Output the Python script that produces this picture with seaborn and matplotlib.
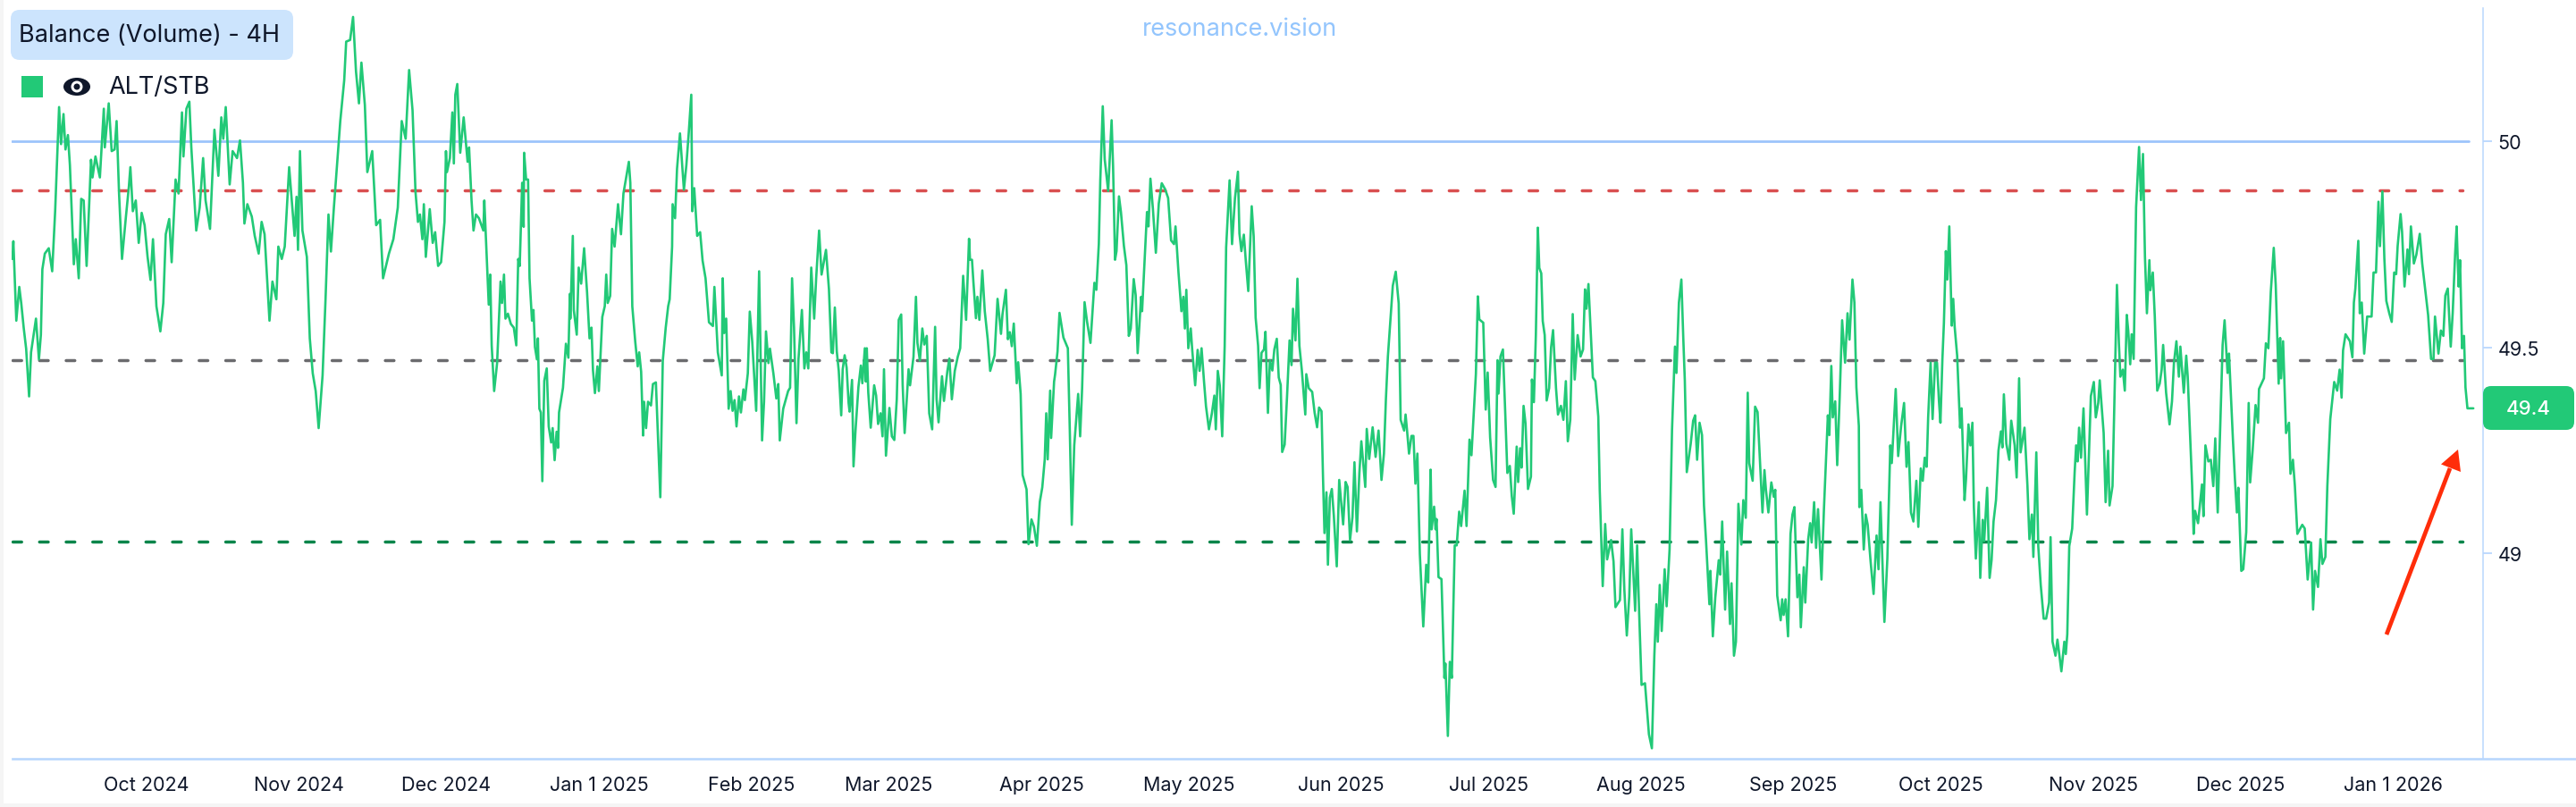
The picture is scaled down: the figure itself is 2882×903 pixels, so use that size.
import pandas as pd
import matplotlib.pyplot as plt
import seaborn as sns
from matplotlib.patches import FancyBboxPatch, Rectangle, Ellipse, Circle, Polygon

# days counted from 1 Oct 2024
days_a = [-27.3,-27.1,-26.5,-25.9,-25.5,-25.0,-24.5,-23.9,-23.5,-22.5,-21.9,-21.5,-21.2,-20.7,-19.9,-19.2,-18.6,-17.8,-17.4,-16.9,-16.5,-16.0,-15.6,-14.8,-14.4,-13.8,-13.3,-12.8,-12.2,-11.3,-11.0,-10.4,-9.5,-8.7,-8.5,-7.7,-7.1,-6.5,-6.1,-5.6,-5.0,-4.2,-3.6,-3.3,-2.8,-2.2,-1.6,-1.0,-0.4,0.2,0.8,1.3,2.0,2.8,3.4,3.9,4.6,5.1,5.9,6.5,7.2,7.5,8.1,8.7,9.1,10.1,10.8,11.5,12.0,12.9,13.8,14.6,15.2,15.6,16.1,16.9,17.5,18.4,19.0,19.6,19.9,20.5,21.4,22.0,22.8,23.4,24.0,25.0,25.6,26.4,26.8,27.5,28.1,29.0,30.1,30.5,30.8,31.2,31.7,32.6,33.2,33.8,34.4,35.0,35.8,36.4,37.0,37.5,38.1,38.7,39.4,40.2,40.6,41.4,42.0,42.6,43.2,43.7,44.4,44.9,45.9,46.7,47.5,48.1,49.3,50.2,51.1,51.9,52.7,53.4,54.1,54.7,55.2]
balance_a = [49.715,49.758,49.565,49.647,49.608,49.548,49.497,49.381,49.488,49.570,49.471,49.531,49.690,49.728,49.741,49.685,49.831,50.084,49.994,50.067,49.981,50.016,49.943,49.702,49.763,49.668,49.861,49.857,49.698,49.956,49.913,49.964,49.913,50.080,49.986,50.093,49.977,49.981,50.050,49.874,49.715,49.818,49.891,49.938,49.831,49.857,49.754,49.827,49.797,49.720,49.664,49.763,49.600,49.539,49.608,49.775,49.812,49.707,49.908,49.874,50.071,49.964,50.080,50.097,49.986,49.784,49.840,49.960,49.857,49.788,50.029,49.917,50.059,50.007,50.084,49.896,49.977,49.960,50.003,49.900,49.801,49.848,49.818,49.771,49.728,49.805,49.775,49.565,49.660,49.617,49.745,49.715,49.745,49.938,49.771,49.866,49.737,49.977,49.784,49.720,49.522,49.437,49.394,49.304,49.432,49.617,49.823,49.733,49.840,49.938,50.050,50.149,50.243,50.247,50.303,50.170,50.093,50.192,50.089,49.926,49.977,49.797,49.810,49.668,49.728,49.763,49.840,50.050,50.007,50.174,50.076,49.878,49.805]

days_b = [55.6,56.1,56.4,56.8,57.6,58.2,58.7,59.3,59.9,60.6,60.9,61.1,61.7,62.2,62.5,62.8,63.2,63.8,64.5,65.3,65.6,66.1,66.5,67.0,67.6,68.5,68.7,69.1,69.6,69.9,70.2,70.7,71.3,72.0,72.3,72.7,73.0,73.5,74.1,74.7,75.2,75.6,75.9,76.4,76.7,76.8,77.2,77.6,77.9,78.4,78.7,79.0,79.4,79.6,79.9,80.2,80.5,80.9,81.4,81.8,82.3,82.6,83.0,83.4,83.7,83.9,84.7,85.3,85.8,86.1,86.2,86.7,86.9,87.5,87.9,88.4,89.0,89.6,90.1,90.5,90.8,91.2,91.7,92.0,92.7,93.2,93.5,93.8,94.3,94.7,95.2,95.9,96.5,97.0,98.1,98.4,98.8,99.4,99.9,100.2,100.6,101.0,101.2,101.6,102.0,102.6,103.0,103.6,104.0,104.5,105.0,105.6,106.1,106.4,106.9,107.0,107.5,107.9,108.5,109.3,109.8,110.3,110.8,111.0,111.4,112.0,112.6,113.1,113.7,114.4,115.2,115.5,116.2,117.0,117.2,117.5,117.9,118.4,118.8,119.2,119.6,120.0,120.5,120.9,121.4,121.7,122.3,122.7,123.2,124.0,124.6,125.2,125.6,126.0,126.5,126.8,127.5,128.1,128.5,128.8,129.5,130.5,130.9,131.3,131.7,132.2,132.6,133.3,133.8,134.2,134.6,135.2,135.8,136.2,136.8,137.3,138.2,138.8,139.3]
balance_b = [49.823,49.763,49.848,49.720,49.836,49.754,49.780,49.698,49.707,49.805,49.977,49.926,49.960,50.071,49.947,50.114,50.140,49.973,50.059,49.951,49.986,49.857,49.784,49.823,49.814,49.784,49.857,49.745,49.604,49.677,49.505,49.394,49.462,49.660,49.608,49.677,49.570,49.582,49.557,49.548,49.505,49.715,49.698,49.900,49.793,49.973,49.908,49.908,49.668,49.565,49.591,49.501,49.471,49.522,49.351,49.342,49.175,49.419,49.449,49.308,49.269,49.304,49.226,49.295,49.256,49.342,49.402,49.509,49.475,49.630,49.570,49.771,49.591,49.531,49.694,49.655,49.741,49.634,49.522,49.548,49.445,49.389,49.454,49.394,49.574,49.600,49.677,49.608,49.625,49.788,49.745,49.848,49.775,49.874,49.951,49.900,49.600,49.514,49.454,49.488,49.441,49.286,49.368,49.304,49.368,49.359,49.411,49.415,49.291,49.136,49.467,49.548,49.600,49.617,49.745,49.848,49.814,49.934,50.020,49.883,49.943,50.024,50.114,49.831,49.887,49.771,49.780,49.711,49.668,49.561,49.552,49.647,49.488,49.432,49.668,49.535,49.570,49.351,49.394,49.346,49.372,49.308,49.381,49.342,49.398,49.372,49.437,49.587,49.514,49.346,49.685,49.274,49.368,49.539,49.462,49.497,49.437,49.376,49.411,49.274,49.351,49.394,49.402,49.668,49.548,49.316,49.471,49.591,49.449,49.488,49.449,49.694,49.570,49.668,49.784,49.677,49.737,49.642,49.488]

days_c = [139.6,140.0,140.4,140.8,141.3,141.6,142.0,142.4,142.8,143.0,143.5,143.8,144.2,144.8,145.3,145.6,146.1,146.3,146.5,146.8,147.3,148.0,148.4,148.8,149.3,149.7,150.0,150.4,151.1,151.6,152.1,152.6,153.0,153.5,153.8,154.2,154.5,155.0,155.3,156.0,156.5,156.8,157.3,157.8,158.2,158.7,159.2,159.8,160.4,160.7,161.1,161.8,162.2,162.9,163.3,163.8,164.4,165.0,165.5,166.1,166.7,167.3,167.5,167.9,168.2,168.7,169.0,169.4,170.0,170.5,171.1,171.6,172.5,173.1,173.8,174.1,174.8,175.2,175.6,176.0,176.4,177.0,177.3,177.8,178.2,179.0,179.4,180.0,180.5,181.1,181.7,182.2,182.7,183.0,183.3,183.8,184.0,184.6,184.8,185.3,185.7,186.5,187.4,187.8,188.2,188.7,189.5,189.9,190.3,190.8,191.3,192.0,192.8,193.2,193.7,194.0,194.5,194.9,195.6,196.3,196.6,197.0,197.3,197.8,198.2,198.8,199.3,199.8,200.2,200.8,201.2,201.6,202.3,202.5,203.0,203.5,203.8,204.2,204.7,205.3,205.9,206.5,207.2,207.8,208.4,209.0,209.3,209.9,210.5,210.9,211.2,211.5,211.9,212.4,212.7,213.3,213.8,214.2,214.6,215.1,215.5,216.1,216.7,217.2,217.5,217.9,218.3,218.8,219.3,219.6,220.3,220.8,221.4,222.0,222.3,222.7]
balance_c = [49.486,49.597,49.490,49.443,49.335,49.447,49.481,49.451,49.365,49.344,49.421,49.211,49.297,49.404,49.456,49.413,49.498,49.417,49.498,49.391,49.305,49.408,49.383,49.314,49.340,49.284,49.447,49.237,49.353,49.284,49.275,49.374,49.567,49.580,49.408,49.292,49.348,49.447,49.408,49.477,49.623,49.511,49.468,49.546,49.507,49.528,49.340,49.301,49.550,49.374,49.318,49.430,49.370,49.443,49.473,49.374,49.443,49.477,49.498,49.674,49.567,49.764,49.713,49.713,49.657,49.571,49.623,49.567,49.687,49.588,49.520,49.443,49.481,49.618,49.533,49.580,49.640,49.520,49.537,49.503,49.558,49.413,49.464,49.387,49.190,49.155,49.022,49.082,49.065,49.018,49.125,49.160,49.228,49.340,49.228,49.395,49.280,49.417,49.434,49.490,49.584,49.524,49.498,49.297,49.069,49.262,49.387,49.284,49.400,49.610,49.563,49.511,49.657,49.640,49.751,49.906,50.086,49.957,49.880,50.052,49.940,49.713,49.734,49.867,49.829,49.747,49.700,49.528,49.546,49.666,49.627,49.486,49.623,49.588,49.709,49.829,49.794,49.910,49.837,49.730,49.850,49.899,49.884,49.863,49.760,49.751,49.794,49.683,49.588,49.623,49.546,49.640,49.498,49.546,49.494,49.408,49.494,49.443,49.498,49.417,49.357,49.301,49.340,49.383,49.301,49.443,49.408,49.284,49.503,49.743,49.906,49.751,49.863,49.927,49.777,49.734]

days_d = [223.2,223.6,224.1,224.8,225.2,225.6,226.1,226.4,226.8,227.3,227.6,228.1,228.5,229.0,229.4,229.9,230.3,230.7,231.0,231.5,232.0,232.5,232.9,233.2,233.7,234.1,234.5,235.0,235.7,235.9,236.4,237.1,237.6,238.1,238.5,239.0,239.3,239.6,240.0,240.3,240.7,241.1,241.5,242.1,242.6,243.4,243.9,244.3,244.8,245.3,245.7,246.2,246.7,247.1,247.9,248.2,248.7,249.4,250.0,250.6,251.2,251.7,252.1,252.5,252.9,253.5,254.1,254.7,255.1,255.8,256.1,256.4,256.8,257.3,257.7,258.1,258.5,258.7,259.0,259.7,260.3,260.7,261.2,261.4,261.9,262.2,262.4,262.8,263.4,264.0,264.2,264.7,265.1,265.5,266.1,266.5,267.0,267.4,268.1,268.5,269.1,269.5,269.9,270.4,270.8,271.1,271.9,272.4,272.8,273.3,273.9,274.4,274.8,275.0,275.4,275.9,276.4,276.8,277.3,277.7,278.1,278.7,279.0,279.4,279.7,280.1,280.5,281.0,281.6,281.8,282.2,282.6,283.0,283.3,283.7,284.0,284.4,284.8,285.3,285.7,286.1,286.7,287.1,287.7,288.2,288.7,289.1,289.6,290.1,290.5,291.1,291.7,292.2,292.6,292.9,293.3,293.8,294.2,294.7,295.3,295.6,296.2,296.7,297.1,297.9,298.4,298.8,299.7,300.2,300.6,301.1,301.6,302.0,302.8,303.2,303.6,304.1,304.8,305.6,306.2]
balance_d = [49.774,49.710,49.637,49.843,49.770,49.572,49.504,49.401,49.487,49.495,49.538,49.341,49.469,49.444,49.495,49.521,49.427,49.409,49.246,49.264,49.384,49.517,49.457,49.594,49.517,49.667,49.504,49.444,49.337,49.435,49.401,49.392,49.341,49.306,49.354,49.345,49.186,49.049,49.148,48.972,49.135,49.156,49.092,48.968,49.178,49.070,49.173,49.161,49.032,49.088,49.221,49.053,49.195,49.272,49.161,49.302,49.229,49.306,49.234,49.298,49.178,49.242,49.375,49.478,49.547,49.650,49.684,49.607,49.324,49.298,49.337,49.298,49.242,49.285,49.285,49.169,49.242,49.143,48.998,48.822,48.972,48.929,49.203,49.058,49.113,49.058,49.083,48.942,48.937,48.697,48.732,48.556,48.736,48.697,49.019,49.019,49.101,49.066,49.152,49.066,49.276,49.238,49.324,49.435,49.624,49.568,49.560,49.349,49.439,49.281,49.178,49.161,49.469,49.388,49.478,49.495,49.332,49.195,49.212,49.139,49.096,49.259,49.173,49.255,49.208,49.358,49.315,49.156,49.186,49.422,49.367,49.530,49.791,49.693,49.680,49.564,49.530,49.371,49.401,49.500,49.542,49.401,49.337,49.358,49.324,49.418,49.272,49.324,49.581,49.422,49.530,49.478,49.495,49.641,49.594,49.654,49.525,49.427,49.418,49.332,49.152,48.920,49.071,48.985,49.032,48.980,48.869,48.886,49.058,48.912,48.800,48.895,49.058,48.860,49.019,48.860,48.680,48.684,48.560,48.526]

days_e = [306.7,307.1,307.4,307.8,308.2,308.8,309.2,309.8,310.3,310.9,311.2,311.7,312.2,312.6,312.9,313.3,314.1,314.6,315.0,315.4,315.9,316.4,316.8,317.2,317.9,318.1,318.6,319.1,319.8,320.1,320.5,321.1,321.5,322.1,322.4,322.9,323.3,323.8,324.4,324.8,325.3,325.7,326.0,326.7,327.2,327.7,328.2,328.7,329.1,329.4,329.9,330.5,331.0,331.3,331.7,332.4,332.7,333.0,333.4,333.9,334.4,334.8,335.2,335.8,336.2,336.5,337.1,337.4,338.0,338.4,338.7,339.2,339.6,340.0,340.7,341.2,342.0,342.3,342.7,343.0,343.5,343.9,344.4,344.9,345.5,346.0,346.4,347.0,347.4,347.8,348.3,348.4,348.8,349.3,349.7,350.1,350.7,351.3,351.9,352.3,352.7,353.5,354.1,354.7,355.0,355.8,356.3,356.9,357.5,358.0,358.4,358.9,359.4,360.0,360.4,360.9,361.3,361.7,362.1,362.4,362.9,363.3,363.8,364.2,364.6,364.9,365.3,365.6,366.0,366.3,366.7,367.2,367.5,367.8,368.3,368.9,369.2,369.8,370.1,370.6,371.0,371.4,371.7,372.1,372.7,373.0,373.5,373.8,374.4,374.9,375.3,375.7,376.2,376.7,377.2,377.5,377.8,378.3,378.9,379.3,380.0,380.4,380.9,381.2,382.0,382.6,383.0,383.5,383.8,384.4,384.8,385.3,385.9,386.4,387.0,387.3,387.7,388.3,388.7,389.5,390.1]
balance_e = [48.751,48.876,48.785,48.923,48.811,48.961,48.871,49.009,49.300,49.502,49.438,49.609,49.665,49.519,49.420,49.197,49.266,49.322,49.335,49.227,49.317,49.287,49.116,49.034,48.876,48.957,48.798,48.893,48.983,48.948,49.077,48.863,49.004,48.828,48.927,48.751,48.785,49.120,49.021,49.129,49.086,49.390,49.219,49.176,49.356,49.343,49.223,49.099,49.202,49.154,49.099,49.172,49.137,49.154,48.897,48.837,48.888,48.850,48.888,48.798,49.047,49.094,49.112,48.893,48.948,48.820,48.966,48.880,49.034,49.073,49.026,49.124,49.013,49.107,48.936,49.107,49.335,49.287,49.455,49.330,49.369,49.214,49.378,49.566,49.463,49.583,49.519,49.665,49.609,49.403,49.309,49.112,49.154,49.009,49.094,49.069,48.979,48.901,49.043,48.961,49.124,48.833,48.987,49.262,49.219,49.399,49.236,49.309,49.365,49.210,49.270,49.099,49.077,49.176,49.064,49.206,49.176,49.232,49.210,49.330,49.463,49.326,49.463,49.463,49.369,49.317,49.472,49.558,49.734,49.665,49.794,49.553,49.618,49.549,49.480,49.305,49.352,49.129,49.180,49.313,49.262,49.317,49.112,48.987,49.124,48.940,49.081,49.030,49.159,48.940,48.983,49.077,49.129,49.249,49.296,49.257,49.386,49.266,49.227,49.322,49.262,49.184,49.425,49.245,49.305,49.163,49.034,49.094,48.991,49.245,49.017,48.923,48.841,48.841,48.880,49.039,48.785,48.751,48.790,48.713,48.785]

days_f = [390.4,390.7,391.1,391.7,392.2,392.5,392.8,393.1,393.5,394.0,394.7,395.5,396.1,396.5,397.0,397.3,398.1,398.5,399.0,399.3,399.9,400.2,400.8,401.2,401.5,402.0,402.4,402.8,403.1,403.5,403.8,404.2,404.7,405.3,405.7,406.1,406.5,406.9,407.4,407.6,408.1,408.5,409.0,409.5,409.9,410.2,410.8,411.5,412.0,412.4,412.9,413.4,413.7,414.4,414.9,415.2,415.6,416.1,416.4,416.7,417.3,418.1,418.4,418.8,419.4,419.9,420.4,420.8,421.3,421.8,422.3,422.7,423.3,423.6,424.1,424.4,424.8,425.2,425.5,426.1,426.5,427.1,427.6,427.9,428.4,429.0,429.5,429.7,430.2,430.7,431.1,431.6,432.1,432.7,433.1,433.7,434.0,434.2,434.6,435.2,435.8,436.1,436.6,437.0,437.5,438.1,438.5,439.0,439.6,440.3,440.7,441.1,441.7,442.2,442.6,443.2,443.6,444.2,445.0,445.6,446.1,446.5,446.8,447.3,448.2,448.7,449.0,449.3,449.9,450.2,450.6,451.1,451.7,452.6,453.0,453.5,454.0,454.3,454.8,455.2,455.6,456.2,456.7,457.2,457.6,457.9,458.5,458.8,459.3,459.9,460.2,460.6,461.2,461.7,462.4,462.9,463.6,464.1,464.7,465.2,465.5,466.2,466.7,467.2,467.6,468.1,468.7,469.1,469.6,469.9,470.3,470.6,471.0,471.4,471.7,472.1,473.3]
balance_f = [48.755,48.803,49.017,49.060,49.197,49.262,49.223,49.305,49.232,49.352,49.094,49.382,49.416,49.330,49.365,49.420,49.292,49.124,49.249,49.116,49.163,49.322,49.652,49.510,49.429,49.446,49.395,49.579,49.541,49.459,49.532,49.472,49.841,49.987,49.858,49.970,49.721,49.583,49.712,49.639,49.682,49.575,49.395,49.412,49.446,49.506,49.390,49.313,49.369,49.463,49.515,49.429,49.502,49.390,49.480,49.429,49.313,49.163,49.047,49.103,49.073,49.167,49.090,49.262,49.223,49.227,49.163,49.279,49.099,49.300,49.506,49.566,49.438,49.485,49.352,49.275,49.180,49.099,49.159,48.957,48.961,49.051,49.365,49.172,49.249,49.360,49.317,49.399,49.412,49.425,49.510,49.498,49.635,49.742,49.652,49.412,49.523,49.425,49.515,49.292,49.317,49.193,49.227,49.163,49.047,49.060,49.069,49.060,48.936,49.026,48.863,48.957,48.918,49.034,48.974,48.991,49.163,49.326,49.416,49.395,49.446,49.378,49.493,49.532,49.515,49.476,49.609,49.643,49.759,49.583,49.609,49.485,49.575,49.575,49.682,49.682,49.854,49.746,49.879,49.716,49.613,49.583,49.562,49.682,49.678,49.746,49.824,49.781,49.648,49.738,49.678,49.794,49.704,49.725,49.776,49.704,49.631,49.579,49.472,49.472,49.575,49.485,49.541,49.528,49.626,49.643,49.502,49.583,49.729,49.794,49.648,49.712,49.498,49.528,49.403,49.352,49.352]

tick_dates = ["2024-10-01", "2024-11-01", "2024-12-01", "2025-01-01", "2025-02-01", "2025-03-01", "2025-04-01",
              "2025-05-01", "2025-06-01", "2025-07-01", "2025-08-01", "2025-09-01", "2025-10-01", "2025-11-01",
              "2025-12-01", "2026-01-01"]
tick_labels = ["Oct 2024", "Nov 2024", "Dec 2024", "Jan 1 2025", "Feb 2025", "Mar 2025", "Apr 2025", "May 2025",
               "Jun 2025", "Jul 2025", "Aug 2025", "Sep 2025", "Oct 2025", "Nov 2025", "Dec 2025", "Jan 1 2026"]
y_ticks = [49, 49.5, 50]
y_labels = ["49", "49.5", "50"]

level_solid = 50
level_high = 49.882
level_mid = 49.469
level_low = 49.028
last_value = "49.4"

GREEN = "#22c977"
AXIS = "#b9d7fd"
TEXT = "#0f172a"
W, H = 2882, 904

for d, b in zip([days_a, days_b, days_c, days_d, days_e, days_f],
                [balance_a, balance_b, balance_c, balance_d, balance_e, balance_f]):
    if len(d) != len(b):
        raise ValueError(f"length mismatch {len(d)} {len(b)} at {d[0]}")

days = days_a + days_b + days_c + days_d + days_e + days_f
balance = balance_a + balance_b + balance_c + balance_d + balance_e + balance_f
df = pd.DataFrame({
    "time": pd.Timestamp("2024-10-01") + pd.to_timedelta(days, unit="D"),
    "balance": balance,
})

sns.set_theme(style="white")
plt.rcParams["font.family"] = ["Inter", "DejaVu Sans"]

fig = plt.figure(figsize=(W / 100, H / 100), dpi=100, facecolor="#f5f5f5")

# white card behind everything
bg = fig.add_axes([0, 0, 1, 1], zorder=0)
bg.set_xlim(0, W)
bg.set_ylim(H, 0)
bg.axis("off")
bg.add_patch(Rectangle((4, 0), W - 4, 900, facecolor="white", edgecolor="none"))

left, right, top, bottom = 13.5, 2778, 10, 850
ax = fig.add_axes([left / W, 1 - bottom / H, (right - left) / W, (bottom - top) / H], zorder=1)
ax.patch.set_alpha(0)


def day(px):
    return pd.Timestamp("2024-10-01") + pd.to_timedelta((px - 164) / 5.5, unit="D")


ax.plot([day(left), day(2762)], [level_solid, level_solid], color="#9dc4fb", lw=2, zorder=1)
for level, color in [(level_high, "#d94f50"), (level_mid, "#6b6b6e"), (level_low, "#07854a")]:
    ax.plot([day(14), day(2755)], [level, level], color=color, lw=2.5,
            dashes=(2.8, 5.77), dash_capstyle="round", zorder=1)

sns.lineplot(data=df, x="time", y="balance", color=GREEN, lw=1.9, estimator=None, ax=ax, zorder=2)

ax.set_xlim(day(left), day(right))
ax.set_ylim(48.5006, 50.3246)
ax.set_xlabel("")
ax.set_ylabel("")
ax.set_xticks(pd.to_datetime(tick_dates))
ax.set_xticklabels(tick_labels)
ax.yaxis.tick_right()
ax.set_yticks(y_ticks)
ax.set_yticklabels(y_labels)
ax.tick_params(axis="x", length=6.5, width=1.3, color=AXIS, labelsize=15.5, labelcolor=TEXT, pad=7)
ax.tick_params(axis="y", length=7, width=1.3, color=AXIS, labelsize=15.5, labelcolor=TEXT, pad=5)
for side in ["left", "top"]:
    ax.spines[side].set_visible(False)
ax.spines["bottom"].set_color(AXIS)
ax.spines["bottom"].set_linewidth(1.9)
ax.spines["bottom"].set_bounds(ax.get_xlim()[0], pd.Timestamp(day(2761)).to_datetime64())
ax.spines["right"].set_color(AXIS)
ax.spines["right"].set_linewidth(1.1)

# header, legend, badge and arrow sit on top in pixel coordinates
top_ax = fig.add_axes([0, 0, 1, 1], zorder=2)
top_ax.set_xlim(0, W)
top_ax.set_ylim(H, 0)
top_ax.axis("off")

top_ax.add_patch(FancyBboxPatch((20, 20), 300, 40, boxstyle="round,pad=0,rounding_size=0", facecolor="#cce4fd",
                                edgecolor="#cce4fd", lw=0, zorder=3))
top_ax.patches[-1].set_boxstyle("round,pad=8,rounding_size=10")
top_ax.text(21, 40, "Balance (Volume) - 4H", color=TEXT, fontsize=19.5, va="center", ha="left", zorder=4)

top_ax.add_patch(Rectangle((24, 86), 24, 24, facecolor=GREEN, edgecolor="none"))
top_ax.add_patch(Ellipse((86, 98), 30, 20, facecolor=TEXT, edgecolor="none"))
top_ax.add_patch(Circle((86, 98), 6.5, facecolor="white", edgecolor="none"))
top_ax.add_patch(Circle((86, 98), 3.5, facecolor=TEXT, edgecolor="none"))
top_ax.text(121, 98, "ALT/STB", color=TEXT, fontsize=19.5, va="center", ha="left")

top_ax.text(1387, 33, "resonance.vision", color="#93c5fd", fontsize=19.5, va="center", ha="center")

top_ax.add_patch(FancyBboxPatch((2786, 441), 86, 33, boxstyle="round,pad=8,rounding_size=9",
                                facecolor=GREEN, edgecolor="none"))
top_ax.text(2829, 458, last_value, color="white", fontsize=16, va="center", ha="center", fontweight="medium")

top_ax.plot([2670, 2741], [711, 525], color="#ff2d0a", lw=3.4, solid_capstyle="butt")
top_ax.add_patch(Polygon([(2750, 504), (2731, 520.5), (2753, 529)], closed=True, facecolor="#ff2d0a",
                         edgecolor="none"))

fig.savefig("out.png", dpi=100, facecolor=fig.get_facecolor())
plt.close(fig)
